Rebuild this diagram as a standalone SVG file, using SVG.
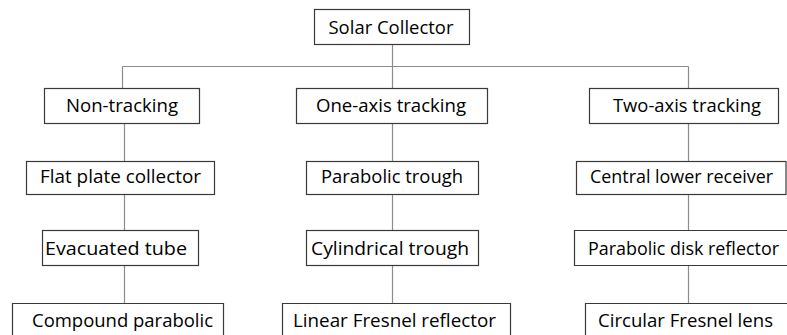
<svg xmlns="http://www.w3.org/2000/svg" width="787" height="335" viewBox="0 0 787 335">
  <style>
    .box { fill: #ffffff; stroke: #3a3a3a; stroke-width: 1.2; }
    .lbl { font-family: "Open Sans", "Noto Sans", sans-serif; font-size: 19px; fill: #000000; text-anchor: middle; }
    .wire { fill: none; stroke: #8c8c8c; stroke-width: 1.2; }
  </style>
  <rect width="787" height="335" fill="#ffffff"/>

  <!-- connectors -->
  <g id="connectors">
    <path class="wire" d="M392.5 44 V66.5 M122.5 66.5 H688.5 M122.5 66.5 V88 M392.5 66.5 V88 M688.5 66.5 V88"/>
    <path class="wire" d="M124.5 123 V161 M124.5 194 V230 M124.5 265 V303"/>
    <path class="wire" d="M392.5 123 V161 M392.5 194 V230 M392.5 265 V303"/>
    <path class="wire" d="M688.5 123 V161 M688.5 194 V230 M688.5 265 V303"/>
  </g>

  <!-- root -->
  <g id="solar-collector">
    <rect class="box" x="314.5" y="9.5" width="155" height="35"/>
    <text class="lbl" x="391" y="34" textLength="125" lengthAdjust="spacingAndGlyphs">Solar Collector</text>
  </g>

  <!-- column 1 -->
  <g id="non-tracking">
    <rect class="box" x="44.5" y="88.5" width="155" height="35"/>
    <text class="lbl" x="122" y="112" textLength="112" lengthAdjust="spacingAndGlyphs">Non-tracking</text>
  </g>
  <g id="flat-plate">
    <rect class="box" x="26.5" y="161.5" width="188" height="33"/>
    <text class="lbl" x="120.5" y="183" textLength="161" lengthAdjust="spacingAndGlyphs">Flat plate collector</text>
  </g>
  <g id="evacuated-tube">
    <rect class="box" x="42.5" y="230.5" width="156" height="35"/>
    <text class="lbl" x="116" y="255" textLength="142" lengthAdjust="spacingAndGlyphs">Evacuated tube</text>
  </g>
  <g id="compound-parabolic">
    <path class="box" d="M12.5 335 V303.5 H223.5 V335"/>
    <text class="lbl" x="122.5" y="327" textLength="181" lengthAdjust="spacingAndGlyphs">Compound parabolic</text>
  </g>

  <!-- column 2 -->
  <g id="one-axis">
    <rect class="box" x="296.5" y="88.5" width="191" height="35"/>
    <text class="lbl" x="391" y="112" textLength="150" lengthAdjust="spacingAndGlyphs">One-axis tracking</text>
  </g>
  <g id="parabolic-trough">
    <rect class="box" x="306.5" y="161.5" width="172" height="33"/>
    <text class="lbl" x="392" y="183" textLength="142" lengthAdjust="spacingAndGlyphs">Parabolic trough</text>
  </g>
  <g id="cylindrical-trough">
    <rect class="box" x="306.5" y="230.5" width="172" height="35"/>
    <text class="lbl" x="390" y="255" textLength="158" lengthAdjust="spacingAndGlyphs">Cylindrical trough</text>
  </g>
  <g id="linear-fresnel">
    <path class="box" d="M282.5 335 V303.5 H510.5 V335"/>
    <text class="lbl" x="394.5" y="327" textLength="203" lengthAdjust="spacingAndGlyphs">Linear Fresnel reflector</text>
  </g>

  <!-- column 3 -->
  <g id="two-axis">
    <rect class="box" x="589.5" y="88.5" width="189" height="35"/>
    <text class="lbl" x="687" y="112" textLength="148" lengthAdjust="spacingAndGlyphs">Two-axis tracking</text>
  </g>
  <g id="central-receiver">
    <rect class="box" x="576.5" y="161.5" width="209.5" height="33"/>
    <text class="lbl" x="681.5" y="183" textLength="183" lengthAdjust="spacingAndGlyphs">Central lower receiver</text>
  </g>
  <g id="parabolic-disk">
    <path class="box" d="M787 230.5 H574.5 V265.5 H787"/>
    <text class="lbl" x="683.5" y="255" font-size="18" textLength="191" lengthAdjust="spacingAndGlyphs">Parabolic disk reflector</text>
  </g>
  <g id="circular-fresnel">
    <path class="box" d="M787 303.5 H585.5 V335"/>
    <text class="lbl" x="685.5" y="327" textLength="175" lengthAdjust="spacingAndGlyphs">Circular Fresnel lens</text>
  </g>
</svg>
